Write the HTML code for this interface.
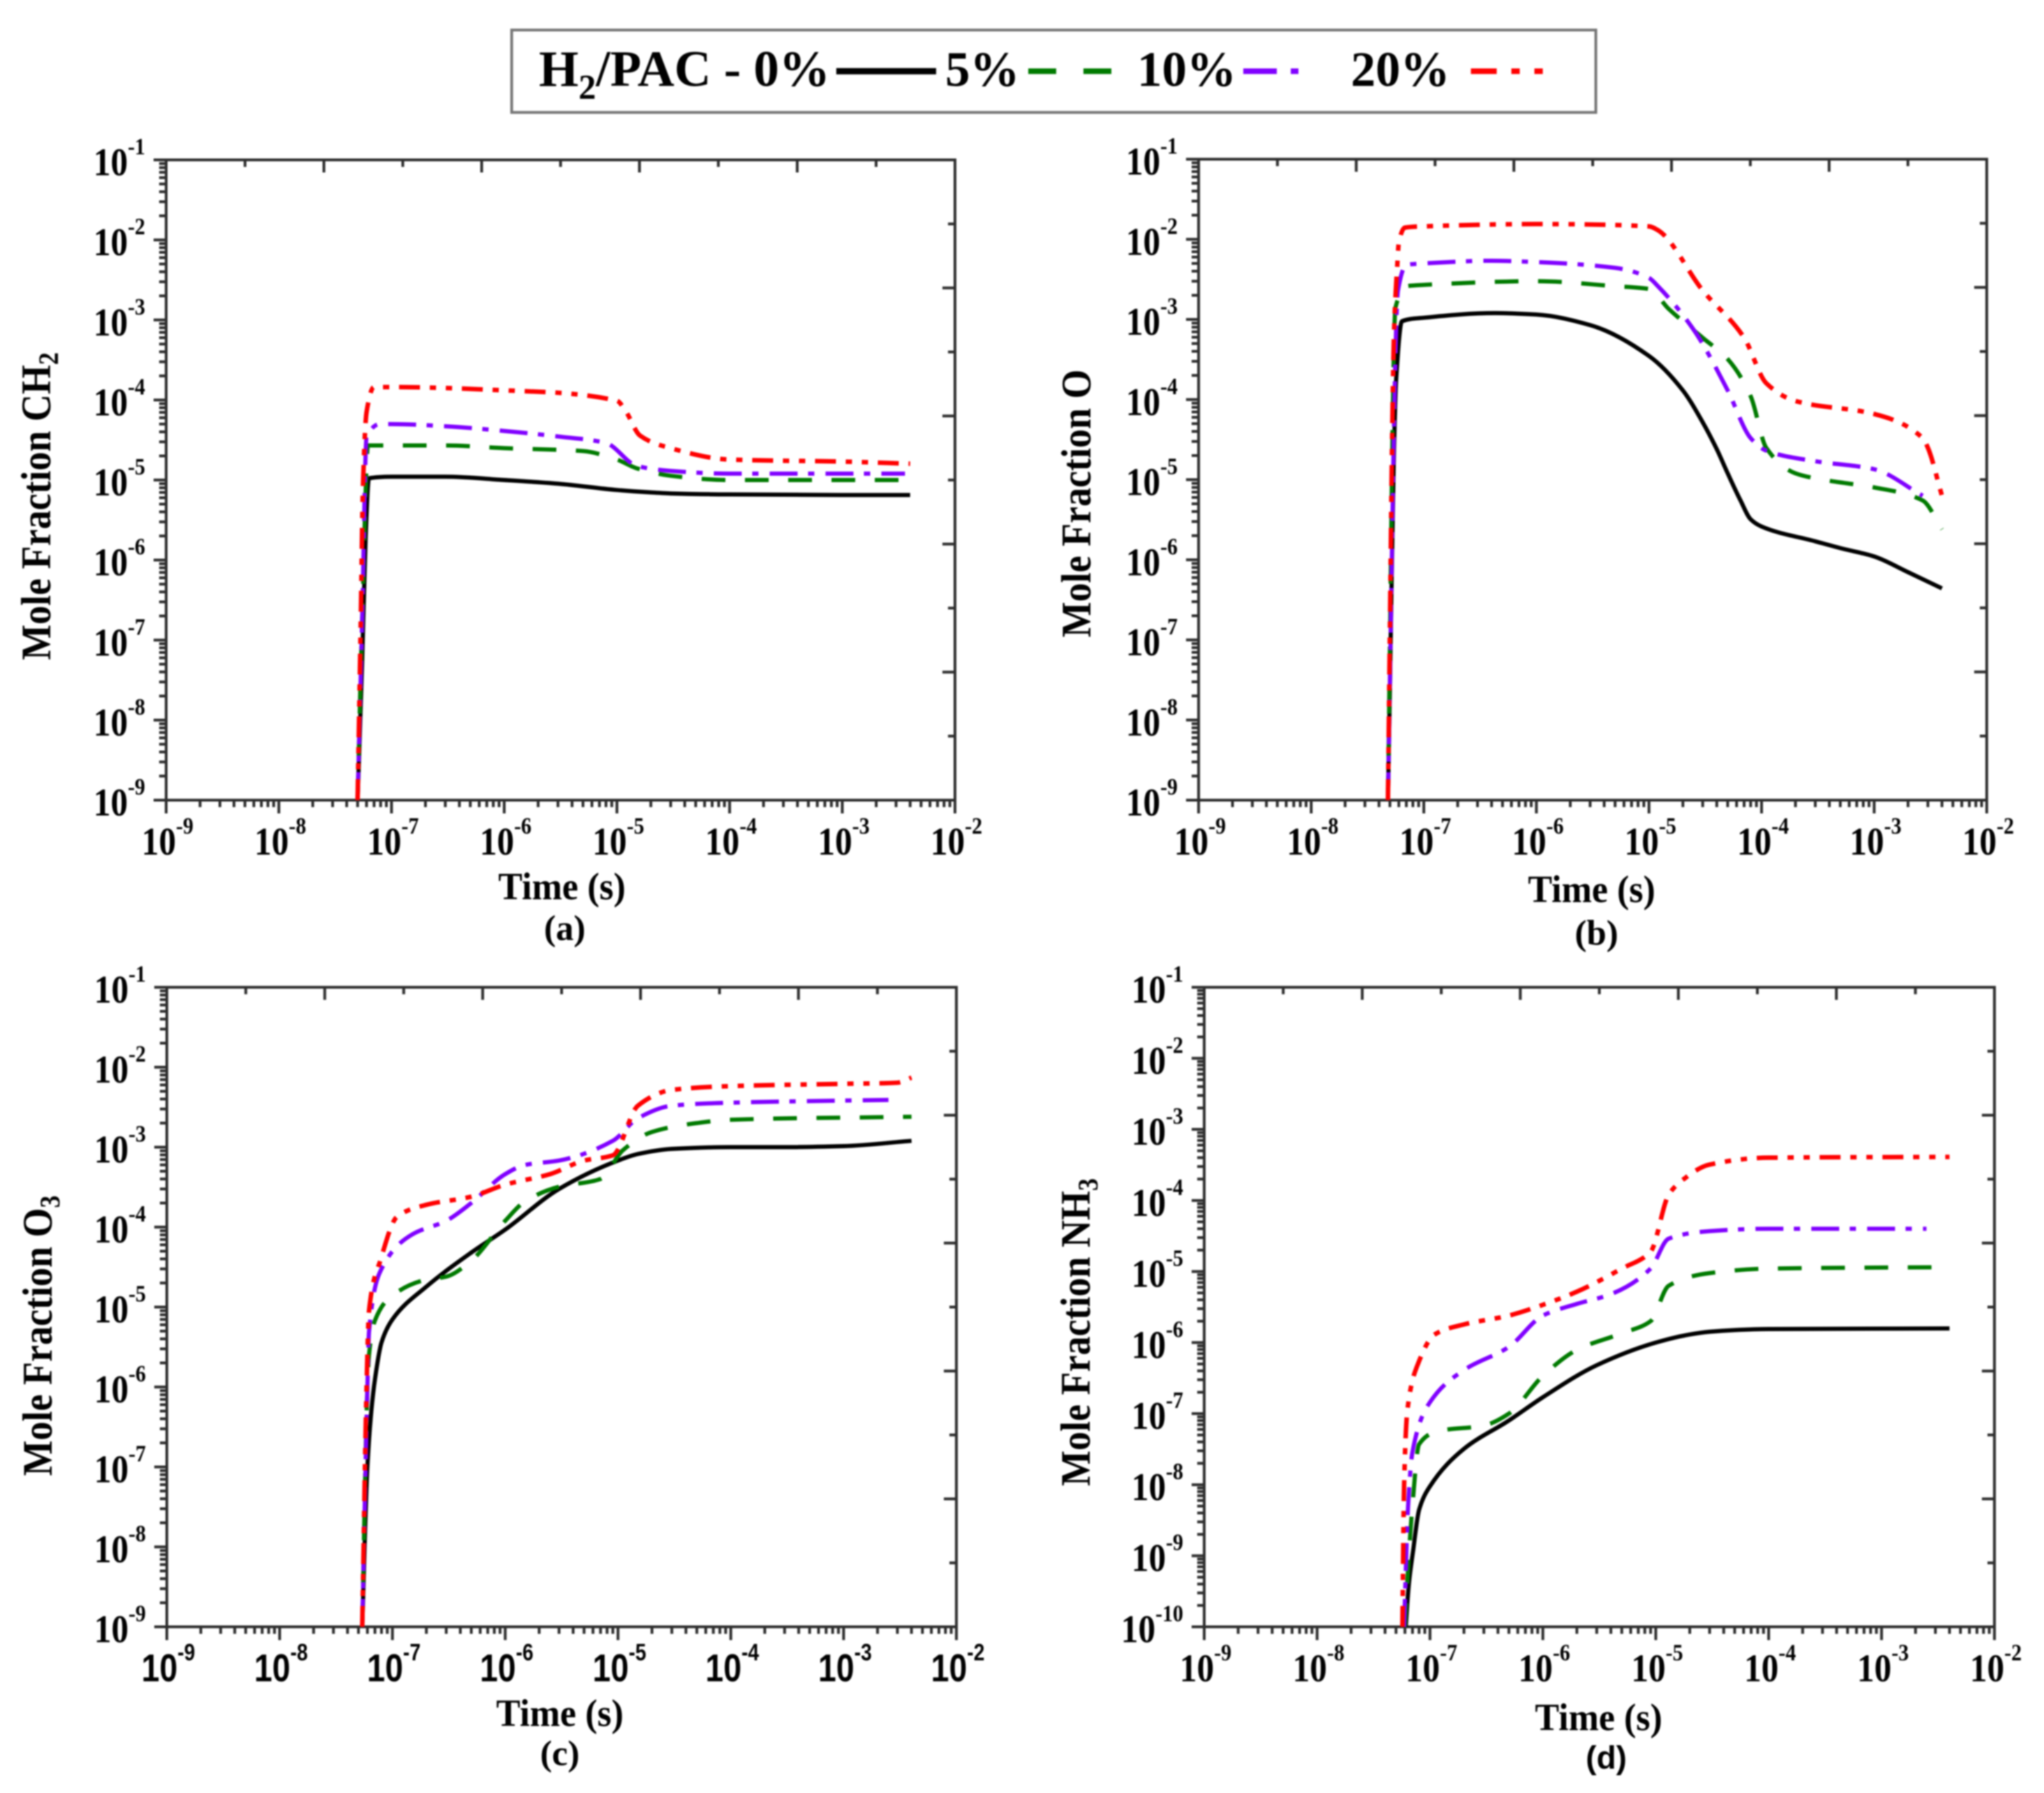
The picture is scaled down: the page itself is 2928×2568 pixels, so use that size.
<!DOCTYPE html>
<html lang="en">
<head>
<meta charset="utf-8">
<title>Mole fraction versus time</title>
<style>
html,body{margin:0;padding:0;background:#fff;}
svg{display:block;filter:blur(1px);}
text{font-family:"Liberation Serif",serif;font-weight:bold;fill:#000;}
</style>
</head>
<body>
<svg id="figure" xmlns="http://www.w3.org/2000/svg" width="2928" height="2568" viewBox="0 0 2928 2568">
<rect x="0" y="0" width="2928" height="2568" fill="#fff"/>
<g>
<rect x="733" y="43" width="1553" height="118" fill="#fff" stroke="#777" stroke-width="4"/>
<text x="772" y="123" font-size="73">H<tspan font-size="50" dy="18">2</tspan><tspan dy="-18">/PAC - 0%</tspan></text>
<line x1="1198" y1="102" x2="1341" y2="102" stroke="#000" stroke-width="9"/>
<text x="1354" y="123" font-size="71">5%</text>
<line x1="1473" y1="102" x2="1595" y2="102" stroke="#007a00" stroke-width="8" stroke-dasharray="40 39"/>
<text x="1629" y="123" font-size="71">10%</text>
<line x1="1781" y1="102" x2="1860" y2="102" stroke="#8000ff" stroke-width="8" stroke-dasharray="48 20 11 20"/>
<text x="1935" y="123" font-size="71">20%</text>
<line x1="2107" y1="102" x2="2210" y2="102" stroke="#ff0000" stroke-width="8" stroke-dasharray="37 21 12 21 12 21"/>
</g>

<text transform="translate(72,725) rotate(-90) scale(1,1.12)" text-anchor="middle" font-size="54">Mole Fraction CH<tspan font-size="36" dy="10">2</tspan></text>
<text transform="translate(805,1288) scale(1,1.05)" text-anchor="middle" font-size="52">Time (s)</text>
<text x="809" y="1346" text-anchor="middle" font-size="51">(a)</text>

<text transform="translate(1562,721) rotate(-90) scale(1,1.12)" text-anchor="middle" font-size="54">Mole Fraction O</text>
<text transform="translate(2280,1292) scale(1,1.05)" text-anchor="middle" font-size="52">Time (s)</text>
<text x="2287" y="1353" text-anchor="middle" font-size="51">(b)</text>

<text transform="translate(74,1913) rotate(-90) scale(1,1.12)" text-anchor="middle" font-size="54">Mole Fraction O<tspan font-size="36" dy="10">3</tspan></text>
<text transform="translate(802,2472) scale(1,1.05)" text-anchor="middle" font-size="52">Time (s)</text>
<text x="802" y="2528" text-anchor="middle" font-size="51">(c)</text>

<text transform="translate(1561,1908) rotate(-90) scale(1,1.12)" text-anchor="middle" font-size="54">Mole Fraction NH<tspan font-size="36" dy="10">3</tspan></text>
<text transform="translate(2290,2478) scale(1,1.05)" text-anchor="middle" font-size="52">Time (s)</text>
<text x="2301" y="2533" text-anchor="middle" style="font-family:'Liberation Sans',sans-serif" font-size="46">(d)</text>

<g id="plots"></g>
</svg>

<script>
// Tick label exponents
const xTickExponents = [-9, -8, -7, -6, -5, -4, -3, -2];
const yTickExponentsABC = [-9, -8, -7, -6, -5, -4, -3, -2, -1];
const yTickExponentsD = [-10, -9, -8, -7, -6, -5, -4, -3, -2, -1];

// Panel (a) CH2
const aTime0 = [5e-8, 5.5e-8, 5.9e-8, 6.3e-8, 1e-7, 3e-7, 1e-6, 3e-6, 1e-5, 2e-5, 3e-5, 1e-4, 1e-3, 4e-3];
const aFrac0 = [1e-9, 6e-8, 2e-6, 1.05e-5, 1.1e-5, 1.1e-5, 1e-5, 9e-6, 7.5e-6, 7e-6, 6.8e-6, 6.6e-6, 6.5e-6, 6.5e-6];
const aTime5 = [5e-8, 5.5e-8, 6.2e-8, 8e-8, 3e-7, 1e-6, 5e-6, 1e-5, 1.5e-5, 3e-5, 1e-4, 1e-3, 4e-3];
const aFrac5 = [1e-9, 2e-7, 2.7e-5, 2.7e-5, 2.7e-5, 2.5e-5, 2.3e-5, 1.8e-5, 1.4e-5, 1.13e-5, 1e-5, 1e-5, 1e-5];
const aTime10 = [5e-8, 5.5e-8, 6e-8, 8e-8, 1e-7, 3e-7, 1e-6, 3e-6, 8e-6, 1.5e-5, 3e-5, 1e-4, 1e-3, 3.6e-3];
const aFrac10 = [1e-9, 2e-7, 3.4e-5, 5e-5, 5e-5, 4.7e-5, 4.1e-5, 3.5e-5, 2.9e-5, 1.5e-5, 1.3e-5, 1.2e-5, 1.2e-5, 1.2e-5];
const aTime20 = [5e-8, 5.3e-8, 5.6e-8, 6e-8, 7e-8, 1e-7, 1e-6, 1e-5, 1.2e-5, 1.6e-5, 3e-5, 1e-4, 1e-3, 4e-3];
const aFrac20 = [1e-9, 1e-7, 1e-5, 7e-5, 1.45e-4, 1.45e-4, 1.32e-4, 9.8e-5, 7.2e-5, 3.6e-5, 2.5e-5, 1.8e-5, 1.7e-5, 1.6e-5];

// Panel (b) O
const bTime0 = [4.8e-8, 5.7e-8, 6.4e-8, 1e-7, 4.3e-7, 1e-6, 3e-6, 1e-5, 2e-5, 3e-5, 4e-5, 5e-5, 6.5e-5, 8e-5, 1e-4, 3e-4, 5e-4, 1e-3, 2e-3, 4e-3];
const bFrac0 = [1e-9, 1.9e-4, 9.5e-4, 1.05e-3, 1.2e-3, 1.15e-3, 8.5e-4, 3.5e-4, 1.3e-4, 5.2e-5, 2.4e-5, 1.2e-5, 5.5e-6, 3.2e-6, 2.6e-6, 1.7e-6, 1.4e-6, 1.1e-6, 7e-7, 4.4e-7];
const bTime5 = [4.8e-8, 5.6e-8, 7e-8, 1e-7, 1e-6, 5e-6, 1e-5, 1.5e-5, 3e-5, 5e-5, 8e-5, 1.1e-4, 2e-4, 3.5e-4, 1e-3, 2.7e-3, 4e-3];
const bFrac5 = [1e-9, 1.4e-3, 2.6e-3, 2.7e-3, 3e-3, 2.6e-3, 2.4e-3, 1.35e-3, 5.9e-4, 3.2e-4, 1.1e-4, 2.5e-5, 1.2e-5, 1e-5, 8e-6, 5.5e-6, 2.4e-6];
const bTime10 = [4.8e-8, 5.9e-8, 7e-8, 1e-7, 4e-7, 1e-6, 5e-6, 1e-5, 1.2e-5, 2.5e-5, 5e-5, 8e-5, 1.1e-4, 3e-4, 1e-3, 2.7e-3];
const bFrac10 = [1e-9, 2.3e-3, 4.8e-3, 5e-3, 5.4e-3, 5.2e-3, 4.4e-3, 3.3e-3, 2.6e-3, 7.4e-4, 1.3e-4, 3.3e-5, 2.3e-5, 1.7e-5, 1.35e-5, 6.3e-6];
const bTime20 = [4.8e-8, 5.45e-8, 5.8e-8, 6e-8, 6.8e-8, 1e-7, 1e-6, 1e-5, 1.2e-5, 3e-5, 7e-5, 1.1e-4, 2e-4, 1e-3, 2.7e-3, 3e-3, 4e-3];
const bFrac20 = [1e-9, 7.4e-4, 4.5e-3, 9e-3, 1.4e-2, 1.45e-2, 1.55e-2, 1.45e-2, 1.3e-2, 2.3e-3, 5.9e-4, 1.6e-4, 9.6e-5, 6.6e-5, 3.3e-5, 2.5e-5, 6.3e-6];

// Panel (c) O3
const cTime0 = [5.4e-8, 6e-8, 6.5e-8, 7e-8, 8e-8, 1e-7, 2e-7, 5e-7, 1e-6, 3e-6, 1e-5, 1.5e-5, 3e-5, 1e-4, 3e-4, 1e-3, 4e-3];
const cFrac0 = [1e-9, 1e-7, 5e-7, 1.25e-6, 3.6e-6, 7e-6, 1.8e-5, 4.8e-5, 9.3e-5, 3e-4, 6.8e-4, 8.2e-4, 9.5e-4, 1e-3, 1e-3, 1.03e-3, 1.2e-3];
const cTime5 = [5.4e-8, 6e-8, 6.2e-8, 7e-8, 1e-7, 2e-7, 3e-7, 5e-7, 1e-6, 1.5e-6, 3e-6, 7e-6, 1.1e-5, 2e-5, 5e-5, 1e-4, 4e-3];
const cFrac5 = [1e-9, 1e-6, 2.5e-6, 6.8e-6, 1.4e-5, 2.2e-5, 2.4e-5, 3.8e-5, 1.2e-4, 2.1e-4, 3.2e-4, 4e-4, 9.1e-4, 1.55e-3, 2e-3, 2.2e-3, 2.4e-3];
const cTime10 = [5.4e-8, 6e-8, 6.2e-8, 8e-8, 1.5e-7, 3e-7, 5e-7, 1e-6, 1.5e-6, 3e-6, 9e-6, 1.5e-5, 3e-5, 1e-4, 2.5e-3];
const cFrac10 = [1e-9, 1e-6, 4.9e-6, 3e-5, 8.1e-5, 1.2e-4, 2e-4, 4.6e-4, 6e-4, 6.8e-4, 1.2e-3, 2.3e-3, 3.3e-3, 3.6e-3, 3.9e-3];
const cTime20 = [5.4e-8, 5.9e-8, 6.2e-8, 7.9e-8, 1.1e-7, 2e-7, 5e-7, 1e-6, 2.5e-6, 5e-6, 9e-6, 1.5e-5, 3e-5, 1e-4, 1e-3, 3e-3, 4e-3];
const cFrac20 = [1e-9, 1e-6, 8.9e-6, 4e-5, 1.35e-4, 1.9e-4, 2.4e-4, 3.4e-4, 4.6e-4, 6.8e-4, 7.9e-4, 3.3e-3, 5.2e-3, 5.8e-3, 6.2e-3, 6.4e-3, 7.4e-3];

// Panel (d) NH3
const dTime0 = [6.1e-8, 6.5e-8, 7.1e-8, 8e-8, 1e-7, 2e-7, 5e-7, 1e-6, 3e-6, 1e-5, 2e-5, 3e-5, 5e-5, 1e-4, 4e-3];
const dFrac0 = [1e-10, 4e-10, 1.2e-9, 4.4e-9, 9.5e-9, 3.2e-8, 8e-8, 1.7e-7, 4.8e-7, 1e-6, 1.3e-6, 1.42e-6, 1.5e-6, 1.55e-6, 1.58e-6];
const dTime5 = [6e-8, 6.5e-8, 7e-8, 8e-8, 1.2e-7, 3e-7, 5e-7, 1e-6, 2e-6, 5e-6, 9e-6, 1.3e-5, 3e-5, 1e-4, 4e-3];
const dFrac5 = [1e-10, 1e-9, 5.2e-9, 3.7e-8, 5.7e-8, 6.8e-8, 1e-7, 3.4e-7, 7.9e-7, 1.35e-6, 2e-6, 6.3e-6, 9.5e-6, 1.1e-5, 1.15e-5];
const dTime10 = [5.9e-8, 6.4e-8, 7e-8, 1e-7, 2e-7, 5e-7, 1e-6, 2e-6, 4e-6, 9e-6, 1.3e-5, 3e-5, 1e-4, 2.5e-3];
const dFrac10 = [1e-10, 5e-9, 2.9e-8, 1.45e-7, 4.1e-7, 8.7e-7, 2.4e-6, 3.5e-6, 4.8e-6, 1.1e-5, 2.9e-5, 3.7e-5, 4e-5, 4e-5];
const dTime20 = [5.7e-8, 5.9e-8, 6.3e-8, 7.9e-8, 1.1e-7, 2e-7, 5e-7, 1e-6, 2e-6, 5e-6, 9e-6, 1.3e-5, 1.7e-5, 3e-5, 1e-4, 4e-3];
const dFrac20 = [1e-10, 1e-8, 1.1e-7, 5.2e-7, 1.3e-6, 1.8e-6, 2.4e-6, 3.4e-6, 5.2e-6, 1.1e-5, 1.9e-5, 1.2e-4, 1.9e-4, 3.2e-4, 4e-4, 4.1e-4];

const SVG_NS = 'http://www.w3.org/2000/svg';
const plots = document.getElementById('plots');

const seriesStyles = [
  {key: '0-percent', color: '#000000', width: 6, dash: ''},
  {key: '5-percent', color: '#007a00', width: 6, dash: '34 28'},
  {key: '10-percent', color: '#8000ff', width: 6, dash: '40 15 9 16'},
  {key: '20-percent', color: '#ff0000', width: 6.5, dash: '30 14 9 14 9 14'}
];

function mk(tag, attrs, parent) {
  const el = document.createElementNS(SVG_NS, tag);
  for (const k in attrs) el.setAttribute(k, attrs[k]);
  parent.appendChild(el);
  return el;
}

function makeXScale(box) {
  return function (t) {
    return box.left + (Math.log10(t) + 9) / 7 * (box.right - box.left);
  };
}

function makeYScale(box, yMinExp) {
  return function (v) {
    return box.bottom - (Math.log10(v) - yMinExp) / (-1 - yMinExp) * (box.bottom - box.top);
  };
}

function monotonePath(pts) {
  const n = pts.length;
  const d = [], hs = [], m = [];
  for (let i = 0; i < n - 1; i++) {
    hs.push(pts[i + 1][0] - pts[i][0]);
    d.push((pts[i + 1][1] - pts[i][1]) / hs[i]);
  }
  m.push(d[0]);
  for (let i = 1; i < n - 1; i++) {
    if (d[i - 1] * d[i] <= 0) {
      m.push(0);
    } else {
      const w1 = 2 * hs[i] + hs[i - 1];
      const w2 = hs[i] + 2 * hs[i - 1];
      m.push((w1 + w2) / (w1 / d[i - 1] + w2 / d[i]));
    }
  }
  m.push(d[n - 2]);
  let s = 'M' + pts[0][0].toFixed(2) + ' ' + pts[0][1].toFixed(2);
  for (let i = 0; i < n - 1; i++) {
    const h = hs[i] / 3;
    s += ' C' + (pts[i][0] + h).toFixed(2) + ' ' + (pts[i][1] + m[i] * h).toFixed(2) +
         ' ' + (pts[i + 1][0] - h).toFixed(2) + ' ' + (pts[i + 1][1] - m[i + 1] * h).toFixed(2) +
         ' ' + pts[i + 1][0].toFixed(2) + ' ' + pts[i + 1][1].toFixed(2);
  }
  return s;
}

function tickLabel(parent, x, y, exp, anchor, name, sans) {
  const text = mk('text', {
    transform: 'translate(' + x + ',' + y + ') scale(' + (sans ? 0.83 : 0.88) + ',1)',
    'text-anchor': anchor,
    'font-size': 56
  }, parent);
  
  
  if (sans) text.style.fontFamily = '"Liberation Sans",sans-serif';
  const base = mk('tspan', {}, text);
  base.textContent = '10';
  const sup = mk('tspan', {'font-size': 34, dy: -30}, text);
  sup.textContent = String(exp);
}

function drawPanel(panel) {
  const box = panel.box;
  const yMinExp = panel.yTicks[0];
  const xScale = makeXScale(box);
  const yScale = makeYScale(box, yMinExp);
  const w = box.right - box.left;
  const h = box.bottom - box.top;

  const g = mk('g', {}, plots);
  
  

  const axisColor = '#2e2e2e';
  const tickGroup = mk('g', {stroke: axisColor, 'stroke-width': 4, fill: 'none'}, g);
  
  

  const tick = function (x1, y1, x2, y2) {
    mk('line', {x1: x1, y1: y1, x2: x2, y2: y2}, tickGroup);
  };

  // bottom axis: log decades with outward ticks
  xTickExponents.forEach(function (e, i) {
    const x = xScale(Math.pow(10, e));
    tick(x, box.bottom, x, box.bottom + 19);
    if (i < xTickExponents.length - 1) {
      for (let k = 2; k <= 9; k++) {
        const mx = xScale(k * Math.pow(10, e));
        tick(mx, box.bottom, mx, box.bottom + 10);
      }
    }
    tickLabel(g, x + 2, box.bottom + 78, e, 'middle', 'x-tick-label', panel.sansX);
  });

  // left axis: log decades with outward ticks
  panel.yTicks.forEach(function (e, i) {
    const y = yScale(Math.pow(10, e));
    tick(box.left, y, box.left - 18, y);
    if (i < panel.yTicks.length - 1) {
      for (let k = 2; k <= 9; k++) {
        const my = yScale(k * Math.pow(10, e));
        tick(box.left, my, box.left - 10, my);
      }
    }
    tickLabel(g, box.left - 30, y + 22, e, 'end', 'y-tick-label', false);
  });

  // top and right axes: ten equal divisions with inward ticks
  for (let i = 1; i < 10; i++) {
    const len = i % 2 === 0 ? 18 : 10;
    const tx = box.left + w * i / 10;
    tick(tx, box.top, tx, box.top + len);
    const ty = box.top + h * i / 10;
    tick(box.right, ty, box.right - len, ty);
  }

  const frame = mk('rect', {
    x: box.left, y: box.top, width: w, height: h,
    fill: 'none', stroke: axisColor, 'stroke-width': 4
  }, g);
  
  

  panel.series.forEach(function (s, i) {
    const style = seriesStyles[i];
    const pts = s.time.map(function (t, j) {
      return [xScale(t), yScale(s.frac[j])];
    });
    const path = mk('path', {
      d: monotonePath(pts),
      fill: 'none',
      stroke: style.color,
      'stroke-width': style.width,
      'stroke-linejoin': 'round',
      'stroke-dasharray': style.dash
    }, g);
    
    
  });
}

const panels = [
  {id: 'a', box: {left: 238, right: 1368, top: 229, bottom: 1146}, yTicks: yTickExponentsABC, sansX: false,
   series: [{time: aTime0, frac: aFrac0}, {time: aTime5, frac: aFrac5}, {time: aTime10, frac: aFrac10}, {time: aTime20, frac: aFrac20}]},
  {id: 'b', box: {left: 1717, right: 2846, top: 228, bottom: 1146}, yTicks: yTickExponentsABC, sansX: false,
   series: [{time: bTime0, frac: bFrac0}, {time: bTime5, frac: bFrac5}, {time: bTime10, frac: bFrac10}, {time: bTime20, frac: bFrac20}]},
  {id: 'c', box: {left: 239, right: 1370, top: 1414, bottom: 2330}, yTicks: yTickExponentsABC, sansX: true,
   series: [{time: cTime0, frac: cFrac0}, {time: cTime5, frac: cFrac5}, {time: cTime10, frac: cFrac10}, {time: cTime20, frac: cFrac20}]},
  {id: 'd', box: {left: 1725, right: 2857, top: 1414, bottom: 2330}, yTicks: yTickExponentsD, sansX: false,
   series: [{time: dTime0, frac: dFrac0}, {time: dTime5, frac: dFrac5}, {time: dTime10, frac: dFrac10}, {time: dTime20, frac: dFrac20}]}
];

panels.forEach(drawPanel);
</script>
</body>
</html>
